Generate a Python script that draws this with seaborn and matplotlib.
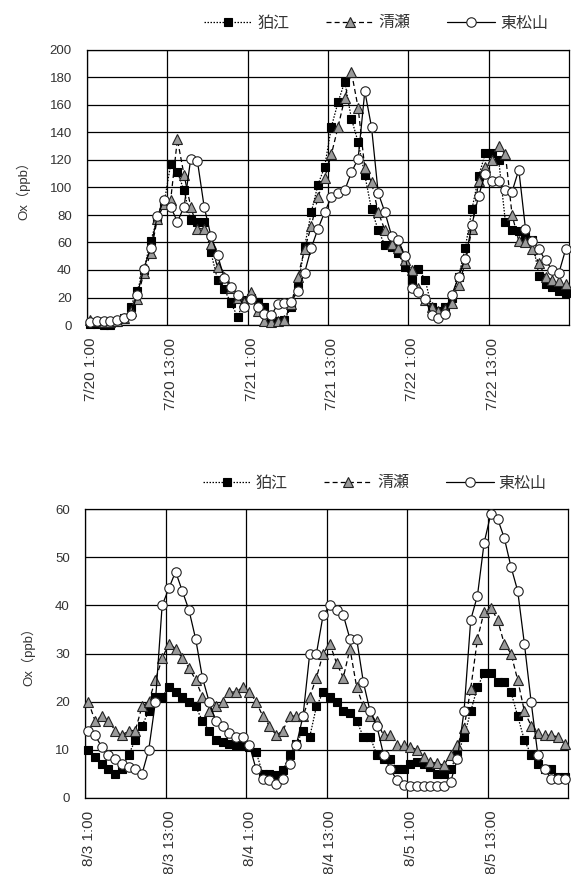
import numpy as np
import pandas as pd
import matplotlib
matplotlib.use("Agg")
import matplotlib.pyplot as plt
import matplotlib.transforms as mtransforms
import seaborn as sns

# ---------------- data ----------------
series_names = ["狛江", "清瀬", "東松山"]

top_tick_labels = ["7/20 1:00", "7/20 13:00", "7/21 1:00", "7/21 13:00", "7/22 1:00", "7/22 13:00"]
bottom_tick_labels = ["8/3 1:00", "8/3 13:00", "8/4 1:00", "8/4 13:00", "8/5 1:00", "8/5 13:00"]

top_komae = [1, 1, 0, 0, 2, 5, 13, 25, 40, 61, 77, 88, 117, 111, 98, 76, 75, 75, 53, 33,
             26, 16, 6, 18, 20, 17, 13, 4, 3, 4, 13, 28, 57, 82, 102, 115, 144, 162, 177, 150,
             133, 109, 84, 69, 58, 57, 52, 42, 33, 41, 33, 13, 10, 13, 20, 35, 56, 84, 108, 125,
             125, 120, 75, 69, 68, 65, 62, 36, 30, 28, 25, 23]
top_kiyose = [4, 3, 2, 2, 3, 5, 10, 19, 38, 52, 77, 88, 91, 135, 109, 86, 70, 70, 59, 42,
              35, 27, 20, 17, 24, 10, 3, 2, 3, 4, 15, 35, 55, 72, 93, 107, 124, 144, 165, 184,
              158, 114, 104, 82, 69, 59, 56, 47, 40, 27, 18, 13, 10, 12, 16, 29, 45, 70, 105, 115,
              120, 130, 124, 80, 61, 60, 55, 45, 35, 33, 32, 30]
top_higashimatsuyama = [2, 3, 3, 3, 4, 5, 7, 22, 41, 56, 79, 91, 86, 75, 86, 121, 119, 86, 65, 51,
                        34, 28, 22, 13, 19, 13, 8, 7, 15, 16, 17, 25, 38, 56, 70, 82, 93, 96, 98, 111,
                        121, 170, 144, 96, 82, 65, 62, 50, 27, 24, 19, 7, 5, 8, 22, 35, 48, 73, 94, 110,
                        105, 105, 98, 97, 113, 70, 61, 55, 47, 40, 38, 55]

bot_komae = [10, 8.6, 7, 6, 5, 6, 9, 12, 15, 18, 21, 21, 23, 22, 21, 20, 19, 16, 14, 12,
             11.7, 11.3, 11, 11, 10.6, 9.6, 5, 5, 4.8, 5.8, 9, 11.3, 14, 12.7, 19, 22, 21, 20, 18, 17.6,
             16, 12.7, 12.7, 9, 8, 8, 6, 6, 7, 7.5, 7, 6.5, 5, 5, 6, 9, 12.7, 18, 23, 26,
             26, 24, 24, 22, 17, 12, 9, 7, 6, 6, 4.4, 4.4]
bot_kiyose = [20, 16, 17, 16, 14, 13, 14, 14, 19, 20, 24.5, 29, 32, 31, 29, 27, 24.5, 21, 18, 19,
              20, 22, 22, 23, 22, 20, 17, 15, 13, 14, 17, 17, 17, 21, 25, 30, 32, 28, 25, 31,
              23, 19, 17, 16, 13, 13, 11, 11, 10.6, 10, 8.6, 7.5, 7.2, 6.8, 9, 11, 14.5, 22.7, 33, 38.7,
              39.5, 37, 32, 30, 24.5, 18, 15, 13.4, 13, 13, 12.7, 11.3]
bot_higashimatsuyama = [14, 13, 10.6, 9, 8, 7, 6.5, 6, 5, 10, 20, 40, 43.5, 47, 43, 39, 33, 25, 20, 16,
                        15, 13.4, 12.7, 12.7, 11, 6, 4, 3.7, 3, 4, 7, 11, 17, 30, 30, 38, 40, 39, 38, 33,
                        33, 24, 18, 15, 9, 6, 3.7, 2.7, 2.5, 2.5, 2.5, 2.5, 2.5, 2.5, 3.4, 8, 18, 37, 42, 53,
                        59, 58, 54, 48, 43, 32, 20, 9, 6, 4, 4, 4]


def make_frame(values_list):
    frames = []
    for name, vals in zip(series_names, values_list):
        n = len(vals)
        frames.append(pd.DataFrame({"hour": np.arange(n) + 0.5, "ox": vals, "site": name}))
    return pd.concat(frames, ignore_index=True)


df_top = make_frame([top_komae, top_kiyose, top_higashimatsuyama])
df_bot = make_frame([bot_komae, bot_kiyose, bot_higashimatsuyama])

# ---------------- style ----------------
sns.set_theme(style="white")
plt.rcParams["font.family"] = ["Liberation Sans", "Noto Sans CJK JP", "DejaVu Sans"]

styles = {
    "狛江": dict(linestyle=(0, (1.2, 1.2)), marker="s", markerfacecolor="black",
               markeredgecolor="black", markersize=6.4, color="black", linewidth=0.9),
    "清瀬": dict(linestyle=(0, (4, 2.5)), marker="^", markerfacecolor="#9a9a9a",
               markeredgecolor="#222222", markersize=6.6, color="black", linewidth=0.9),
    "東松山": dict(linestyle="-", marker="o", markerfacecolor="white",
                markeredgecolor="#222222", markersize=6.8, color="black", linewidth=0.9),
}

fig = plt.figure(figsize=(5.71, 8.74), dpi=100)
W, H = 571, 874
ax_top = fig.add_axes([87 / W, 1 - 325 / H, (569 - 87) / W, (325 - 50) / H])
ax_bot = fig.add_axes([85 / W, 1 - 798 / H, (568 - 85) / W, (798 - 509) / H])

text_color = "#333333"


def draw(ax, df, ymax, ystep, tick_labels, legend_y):
    handles = []
    for name in series_names:
        sub = df[df["site"] == name]
        st = styles[name]
        sns.lineplot(data=sub, x="hour", y="ox", ax=ax, estimator=None,
                     markeredgewidth=0.8, clip_on=False, zorder=3, **st)
        handles.append(ax.get_lines()[-1])
    ax.set_xlim(0, 72)
    ax.set_ylim(0, ymax)
    ax.set_xticks(np.arange(0, 72, 12))
    ax.set_xticklabels(tick_labels, rotation=90, fontsize=11, color=text_color)
    ax.set_yticks(np.arange(0, ymax + 0.1, ystep))
    ax.set_yticklabels([f"{int(v)}" for v in np.arange(0, ymax + 0.1, ystep)],
                       fontsize=9.5, color=text_color)
    ax.tick_params(axis="both", length=0)
    ax.tick_params(axis="y", pad=11)
    ax.tick_params(axis="x", pad=9)
    ax.grid(True, color="black", linewidth=0.9)
    ax.set_axisbelow(True)
    for sp in ax.spines.values():
        sp.set_color("black")
        sp.set_linewidth(0.9)
    ax.set_xlabel("")
    ax.set_ylabel("Ox（ppb）", fontsize=9.5, color=text_color, labelpad=14)
    off = mtransforms.ScaledTranslation(4 / 100, 0, fig.dpi_scale_trans)
    for lab in ax.get_xticklabels():
        lab.set_transform(lab.get_transform() + off)
    leg = ax.legend(handles, series_names, loc="center", bbox_to_anchor=(0.6, legend_y),
                    ncol=3, frameon=False, fontsize=11.5, handlelength=3.0,
                    handletextpad=0.3, columnspacing=2.3, borderaxespad=0)
    for t in leg.get_texts():
        t.set_color(text_color)


draw(ax_top, df_top, 200, 20, top_tick_labels, 1 + 27 / 275)
draw(ax_bot, df_bot, 60, 10, bottom_tick_labels, 1 + 26 / 289)

fig.savefig("out.png", dpi=100)
